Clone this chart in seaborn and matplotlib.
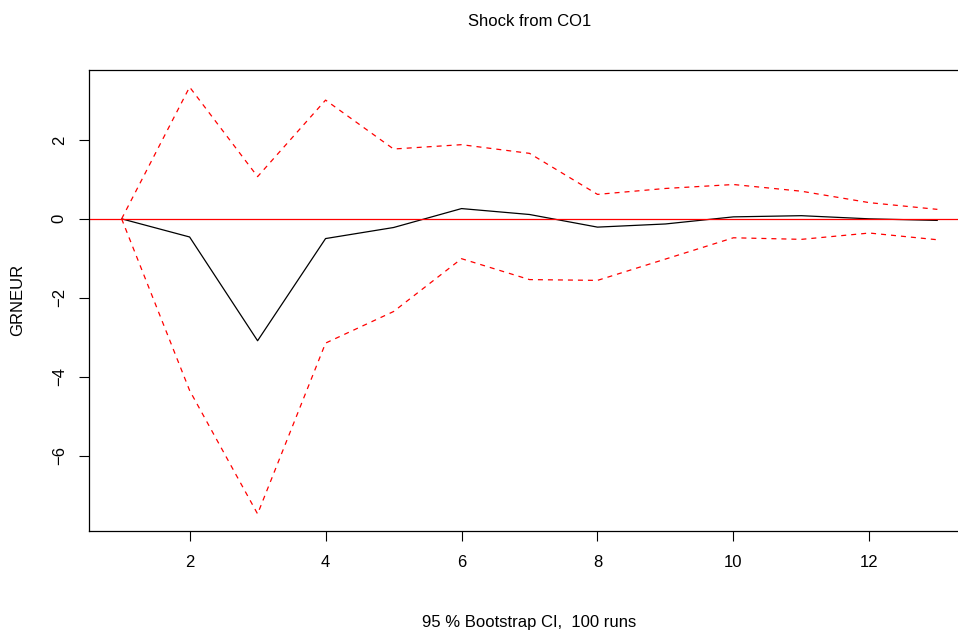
import matplotlib
matplotlib.use("Agg")
import matplotlib.pyplot as plt
import seaborn as sns
import pandas as pd

steps = list(range(1, 14))
irf = [0.0, -0.46, -3.09, -0.50, -0.22, 0.26, 0.11, -0.21, -0.13, 0.05, 0.08, 0.00, -0.04]
upper = [0.0, 3.34, 1.07, 3.01, 1.77, 1.88, 1.66, 0.62, 0.77, 0.87, 0.70, 0.41, 0.24]
lower = [0.0, -4.35, -7.48, -3.15, -2.35, -1.01, -1.54, -1.56, -1.02, -0.48, -0.52, -0.36, -0.53]
xticks = [2, 4, 6, 8, 10, 12]
yticks = [-6, -4, -2, 0, 2]

sns.set_style("ticks")
plt.rcParams['font.family'] = ['Liberation Sans', 'DejaVu Sans']
plt.rcParams['font.size'] = 12
plt.rcParams['text.color'] = 'black'
plt.rcParams['xtick.color'] = 'black'
plt.rcParams['ytick.color'] = 'black'
plt.rcParams['xtick.labelcolor'] = 'black'
plt.rcParams['ytick.labelcolor'] = 'black'

df = pd.DataFrame({"step": steps, "irf": irf, "upper": upper, "lower": lower})

fig = plt.figure(figsize=(9.58, 6.33), dpi=100)
ax = fig.add_axes([89/958, 1-531/633, (970-89)/958, (531-70)/633])

sns.lineplot(data=df, x="step", y="irf", ax=ax, color="black", linewidth=0.9)
sns.lineplot(data=df, x="step", y="upper", ax=ax, color="red", linewidth=0.9, linestyle=(0, (4, 4)))
sns.lineplot(data=df, x="step", y="lower", ax=ax, color="red", linewidth=0.9, linestyle=(0, (4, 4)))
ax.axhline(0, color="red", linewidth=0.9)

rng_x = 12
ax.set_xlim(1 - 0.04 * rng_x, 13 + 0.04 * rng_x)
ymin, ymax = min(lower), max(upper)
ry = ymax - ymin
ax.set_ylim(ymin - 0.04 * ry, ymax + 0.04 * ry)

ax.set_xticks(xticks)
ax.set_yticks(yticks)
ax.set_yticklabels([f"{v:g}".replace("-", "\u2212") for v in yticks], rotation=90, va="center")
ax.tick_params(direction="out", length=7, width=0.8, colors="black", labelsize=12)
ax.tick_params(axis="y", pad=9)
ax.tick_params(axis="x", pad=10)
for s in ax.spines.values():
    s.set_linewidth(0.9)
    s.set_color("black")

ax.set_xlabel("")
ax.set_ylabel("")
fig.text(529.5/958, 1-622/633, "95 % Bootstrap CI,  100 runs", ha="center", va="center", fontsize=12, color="black")
fig.text(18/958, 1-300/633, "GRNEUR", rotation=90, ha="center", va="center", fontsize=12, color="black")
fig.text(530/958, 1-21/633, "Shock from CO1", ha="center", va="center", fontsize=12, color="black")

fig.savefig("out.png", dpi=100)
